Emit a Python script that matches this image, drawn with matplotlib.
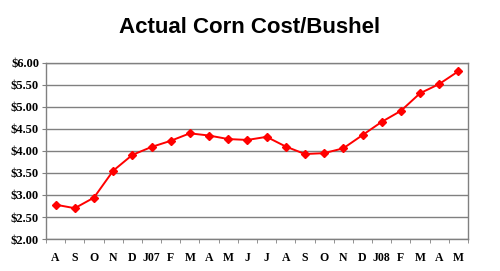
import numpy as np
import matplotlib
matplotlib.use('Agg')
from matplotlib import pyplot as plt

months = ['A', 'S', 'O', 'N', 'D', 'J07', 'F', 'M', 'A', 'M', 'J',
          'J', 'A', 'S', 'O', 'N', 'D', 'J08', 'F', 'M', 'A', 'M']
cost = [2.78, 2.70, 2.94, 3.55, 3.91, 4.09, 4.23, 4.40, 4.35, 4.27, 4.25,
        4.32, 4.10, 3.93, 3.95, 4.06, 4.36, 4.66, 4.91, 5.31, 5.52, 5.81]
yticks = [2.0, 2.5, 3.0, 3.5, 4.0, 4.5, 5.0, 5.5, 6.0]

fig = plt.figure(figsize=(5.0, 2.71), dpi=100)
ax = fig.add_axes([0.092, 0.118, 0.844, 0.650])

x = np.arange(len(months))
ax.plot(x, cost, color='#ff0000', lw=1.4, marker='D', ms=4.5,
        mec='#ff0000', mfc='#ff0000', zorder=3)

ax.set_xlim(-0.5, len(months) - 0.5)
ax.set_ylim(2.0, 6.0)
ax.set_yticks(yticks)
ax.set_yticklabels(['$%.2f' % v for v in yticks],
                   fontfamily='Liberation Serif', fontweight='bold', fontsize=9)
ax.set_xticks(x)
ax.set_xticklabels(months, fontfamily='Liberation Serif', fontweight='bold', fontsize=8.5)
ax.set_xticks(np.arange(len(months) + 1) - 0.5, minor=True)
ax.tick_params(axis='x', which='major', length=0, pad=9)
ax.tick_params(axis='x', which='minor', length=3, color='#808080', direction='out')
ax.tick_params(axis='y', length=3, color='#808080', direction='out', pad=2)

ax.yaxis.grid(True, color='#808080', lw=1.0)
ax.set_axisbelow(True)
for s in ax.spines.values():
    s.set_color('#808080')
    s.set_linewidth(1.0)

fig.text(0.5, 0.90, 'Actual Corn Cost/Bushel', ha='center', va='center',
         fontfamily='Liberation Sans', fontweight='bold', fontsize=16)

fig.savefig('out.png', dpi=100)
